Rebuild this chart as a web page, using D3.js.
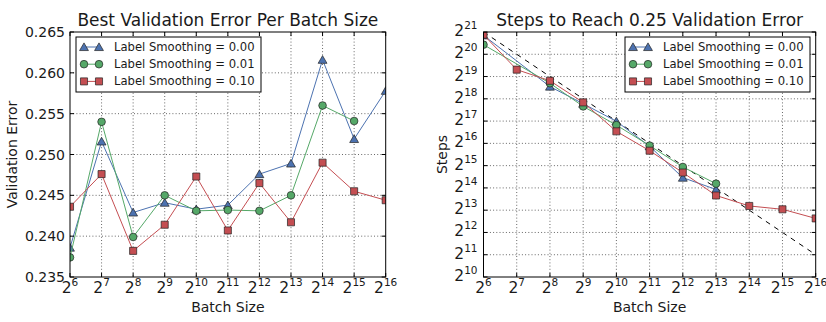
<!DOCTYPE html>
<html>
<head>
<meta charset="utf-8">
<script src="https://cdn.jsdelivr.net/npm/d3@7"></script>
<style>
    body { margin: 0; background: #fff; }
    svg text { font-family: "DejaVu Sans", sans-serif; fill: #1a1a1a; }
</style>
</head>
<body>
<div id="chart"></div>
<script>
// batch sizes (powers of two)
const batchSizes = [64, 128, 256, 512, 1024, 2048, 4096, 8192, 16384, 32768, 65536];
const seriesLabels = ["Label Smoothing = 0.00", "Label Smoothing = 0.01", "Label Smoothing = 0.10"];

// left panel: best validation error
const errSmooth000 = [0.2386, 0.2516, 0.2429, 0.2441, 0.2433, 0.2438, 0.2476, 0.2489, 0.2616, 0.2519, 0.2578];
const errSmooth001 = [0.2374, 0.2540, 0.2399, 0.2450, 0.2431, 0.2432, 0.2431, 0.2450, 0.2560, 0.2541];
const errSmooth010 = [0.2436, 0.2476, 0.2382, 0.2414, 0.2473, 0.2407, 0.2465, 0.2417, 0.2490, 0.2455, 0.2444];
const errTicks = [0.235, 0.240, 0.245, 0.250, 0.255, 0.260, 0.265];

// right panel: steps to reach 0.25
const stepBatch000 = [64, 256, 512, 1024, 2048, 4096, 8192];
const steps000 = [1890000, 383800, 225100, 130200, 59900, 22540, 15610];
const stepBatch001 = [64, 256, 512, 1024, 2048, 4096, 8192];
const steps001 = [1412600, 425900, 207100, 115700, 61150, 31430, 18690];
const stepBatch010 = [64, 128, 256, 512, 1024, 2048, 4096, 8192, 16384, 32768, 65536];
const steps010 = [1929800, 650000, 459600, 234600, 95290, 52140, 26430, 12940, 9345, 8420, 6340];
const perfectScalingBatch = [64, 65536];
const perfectScalingSteps = [2097152, 2048];
const stepTicks = [1024, 2048, 4096, 8192, 16384, 32768, 65536, 131072, 262144, 524288, 1048576, 2097152];

const colors = ["#4C72B0", "#55A868", "#C44E52"];
const shapes = [d3.symbolTriangle, d3.symbolCircle, d3.symbolSquare];
const sizes = [34, 46, 50];

const width = 826, height = 322;

const svg = d3.select("#chart").append("svg")
    .attr("width", width)
    .attr("height", height);

function pow2Label(sel, v) {
    const e = Math.round(Math.log2(v));
    sel.append("tspan").attr("font-size", 15.5).text("2");
    sel.append("tspan").attr("font-size", 10.5).attr("dy", -7).text(e);
}

function drawPanel(opts) {
    const { id, left, right, top, bottom, y, yTicks, yFormat, title, yLabel, yLabelX, series, legendX, extra } = opts;

    const x = d3.scaleLog().base(2).domain([64, 65536]).range([left, right]);
    y.range([bottom, top]);

    const g = svg.append("g");

    g.append("clipPath").attr("id", id)
        .append("rect")
        .attr("x", left).attr("y", top)
        .attr("width", right - left).attr("height", bottom - top);

    // grid
    const grid = g.append("g")
        .attr("stroke", "#000")
        .attr("stroke-width", 0.6)
        .attr("stroke-dasharray", "1,2.2");
    grid.selectAll(".gx").data(batchSizes.slice(1, -1)).join("line")
        .attr("x1", d => x(d)).attr("x2", d => x(d))
        .attr("y1", top).attr("y2", bottom);
    grid.selectAll(".gy").data(yTicks.slice(1, -1)).join("line")
        .attr("y1", d => y(d)).attr("y2", d => y(d))
        .attr("x1", left).attr("x2", right);

    const plot = g.append("g").attr("clip-path", `url(#${id})`);

    if (extra) {
        plot.append("path")
            .attr("d", d3.line().x(d => x(d[0])).y(d => y(d[1]))(d3.zip(extra.xs, extra.ys)))
            .attr("fill", "none")
            .attr("stroke", "#000")
            .attr("stroke-width", 1)
            .attr("stroke-dasharray", "5,5");
    }

    series.forEach((s, i) => {
        const pts = d3.zip(s.xs, s.ys);
        plot.append("path")
            .attr("d", d3.line().x(d => x(d[0])).y(d => y(d[1]))(pts))
            .attr("fill", "none")
            .attr("stroke", colors[i])
            .attr("stroke-width", 1);
        plot.selectAll(null).data(pts).join("path")
            .attr("transform", d => `translate(${x(d[0])},${y(d[1]) + (i === 0 ? 1 : 0)})`)
            .attr("d", d3.symbol(shapes[i], sizes[i]))
            .attr("fill", colors[i])
            .attr("stroke", "#222")
            .attr("stroke-width", 0.7);
    });

    // ticks (inward, all sides)
    const ticks = g.append("g").attr("stroke", "#000").attr("stroke-width", 1);
    batchSizes.forEach(d => {
        ticks.append("line").attr("x1", x(d)).attr("x2", x(d)).attr("y1", bottom).attr("y2", bottom - 4);
        ticks.append("line").attr("x1", x(d)).attr("x2", x(d)).attr("y1", top).attr("y2", top + 4);
    });
    yTicks.forEach(d => {
        ticks.append("line").attr("y1", y(d)).attr("y2", y(d)).attr("x1", left).attr("x2", left + 4);
        ticks.append("line").attr("y1", y(d)).attr("y2", y(d)).attr("x1", right).attr("x2", right - 4);
    });

    g.append("rect")
        .attr("x", left).attr("y", top)
        .attr("width", right - left).attr("height", bottom - top)
        .attr("fill", "none").attr("stroke", "#000").attr("stroke-width", 1);

    // x tick labels
    batchSizes.forEach(d => {
        g.append("text")
            .attr("x", x(d)).attr("y", bottom + 16)
            .attr("text-anchor", "middle")
            .call(pow2Label, d);
    });

    // y tick labels
    yTicks.forEach(d => {
        const t = g.append("text")
            .attr("text-anchor", "end");
        if (yFormat) t.attr("x", left - 5).attr("y", y(d) + 5).attr("font-size", 14).text(yFormat(d));
        else t.attr("x", left - 6).attr("y", y(d) + 4).call(pow2Label, d);
    });

    g.append("text")
        .attr("x", (left + right) / 2).attr("y", top - 6)
        .attr("text-anchor", "middle")
        .attr("font-size", 17)
        .text(title);

    g.append("text")
        .attr("x", (left + right) / 2).attr("y", 312)
        .attr("text-anchor", "middle")
        .attr("font-size", 14)
        .text("Batch Size");

    g.append("text")
        .attr("transform", `translate(${yLabelX},${(top + bottom) / 2}) rotate(-90)`)
        .attr("text-anchor", "middle")
        .attr("font-size", 14)
        .text(yLabel);

    // legend
    const lg = g.append("g").attr("transform", `translate(${legendX},37)`);
    lg.append("rect")
        .attr("width", 185).attr("height", 55)
        .attr("fill", "#fff").attr("stroke", "#000").attr("stroke-width", 1);
    seriesLabels.forEach((label, i) => {
        const yy = 10 + i * 17.2;
        lg.append("line")
            .attr("x1", 8).attr("x2", 23).attr("y1", yy).attr("y2", yy)
            .attr("stroke", colors[i]).attr("stroke-width", 1);
        [8, 23].forEach(mx => {
            lg.append("path")
                .attr("transform", `translate(${mx},${yy + (i === 0 ? 1 : 0)})`)
                .attr("d", d3.symbol(shapes[i], sizes[i]))
                .attr("fill", colors[i])
                .attr("stroke", "#222")
                .attr("stroke-width", 0.7);
        });
        lg.append("text")
            .attr("x", 38).attr("y", yy + 4)
            .attr("font-size", 11.6)
            .text(label);
    });
}

drawPanel({
    id: "clipLeft",
    left: 70, right: 385.7, top: 32, bottom: 277,
    y: d3.scaleLinear().domain([0.235, 0.265]),
    yTicks: errTicks,
    yFormat: d3.format(".3f"),
    title: "Best Validation Error Per Batch Size",
    yLabel: "Validation Error",
    yLabelX: 16.5,
    legendX: 76,
    series: [
        { xs: batchSizes, ys: errSmooth000 },
        { xs: batchSizes.slice(0, errSmooth001.length), ys: errSmooth001 },
        { xs: batchSizes, ys: errSmooth010 }
    ]
});

drawPanel({
    id: "clipRight",
    left: 483.5, right: 815.7, top: 32, bottom: 277,
    y: d3.scaleLog().base(2).domain([1024, 2097152]),
    yTicks: stepTicks,
    yFormat: null,
    title: "Steps to Reach 0.25 Validation Error",
    yLabel: "Steps",
    yLabelX: 446.5,
    legendX: 625,
    extra: { xs: perfectScalingBatch, ys: perfectScalingSteps },
    series: [
        { xs: stepBatch000, ys: steps000 },
        { xs: stepBatch001, ys: steps001 },
        { xs: stepBatch010, ys: steps010 }
    ]
});
</script>
</body>
</html>
